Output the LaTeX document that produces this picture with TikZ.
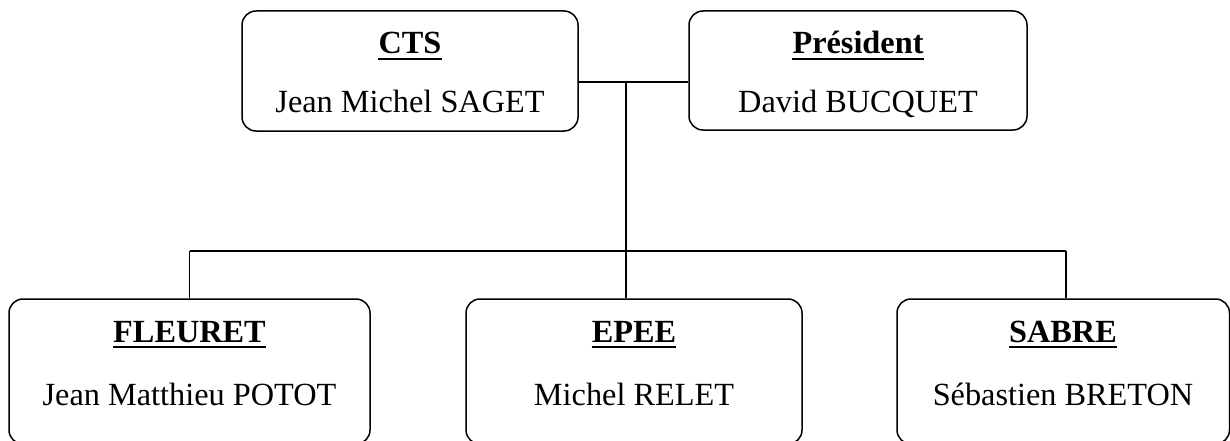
\documentclass[tikz,border=0pt]{standalone}
\usepackage{fontspec}
\setmainfont{Liberation Serif}
\begin{document}
\begin{tikzpicture}[x=1pt,y=-1pt,
  box/.style={draw,line width=1.5pt,rounded corners=14pt,inner sep=0pt},
  title/.style={anchor=base,inner sep=0pt,font=\fontsize{32.3}{38}\selectfont\bfseries},
  who/.style={anchor=base,inner sep=0pt,font=\fontsize{32.3}{38}\selectfont},
  uline/.style={line width=2.2pt},
  link/.style={line width=1.5pt}]
\useasboundingbox (0,0) rectangle (1230,441);
% boxes
\node[box,minimum width=336pt,minimum height=120pt] (cts) at (410,71) {};
\node[box,minimum width=338pt,minimum height=119pt] (pres) at (858,70.5) {};
\node[box,minimum width=361pt,minimum height=145pt] (fleuret) at (189.5,371.5) {};
\node[box,minimum width=336pt,minimum height=145pt] (epee) at (634,371.5) {};
\node[box,minimum width=332.5pt,minimum height=145pt] (sabre) at (1063.25,371.5) {};
% texts
\node[title] (t1) at (410,54) {CTS};
\node[who] (n1) at (410,113) {Jean Michel SAGET};
\node[title] (t2) at (858,54) {Président};
\node[who] (n2) at (858,113) {David BUCQUET};
\node[title] (t3) at (189.5,342) {FLEURET};
\node[who] (n3) at (189.5,405) {Jean Matthieu POTOT};
\node[title] (t4) at (634,342) {EPEE};
\node[who] (n4) at (634,405) {Michel RELET};
\node[title] (t5) at (1063,342) {SABRE};
\node[who] (n5) at (1063,405) {Sébastien BRETON};
% underlines
\foreach \t in {t1,t2,t3,t4,t5}{
  \draw[uline] ([yshift=-5pt]\t.base west) -- ([yshift=-5pt]\t.base east);
}
% connectors
\coordinate (j) at (626,82);
\coordinate (bus) at (626,251);
\draw[link] (cts.east |- j) -- (pres.west |- j);
\draw[link] (j) -- (bus);
\draw[link] (fleuret.north |- bus) -- (1066,251) coordinate (busr);
\draw[link] (fleuret.north) -- (fleuret.north |- bus);
\draw[link] (epee.north -| bus) -- (bus);
\draw[link] (sabre.north -| busr) -- (busr);
\end{tikzpicture}
\end{document}
